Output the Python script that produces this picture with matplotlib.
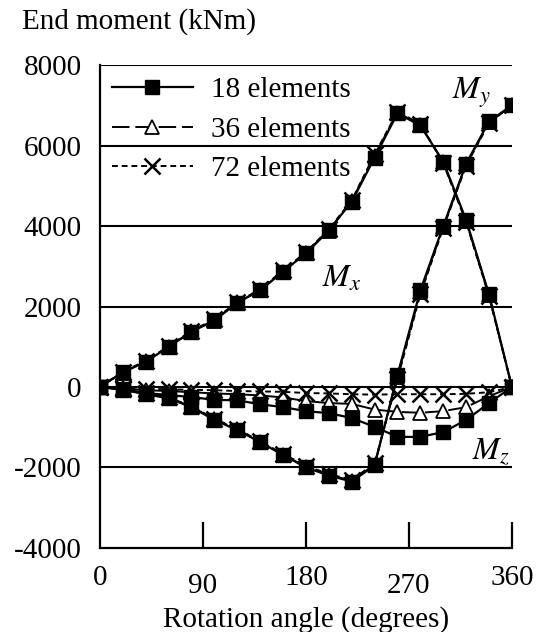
import matplotlib.pyplot as plt
import matplotlib.lines as mlines

plt.rcParams['font.family'] = ['Liberation Serif', 'DejaVu Serif']
plt.rcParams['mathtext.fontset'] = 'stix'
plt.rcParams['axes.unicode_minus'] = False

angle = [0, 20, 40, 60, 80, 100, 120, 140, 160, 180, 200, 220, 240, 260, 280, 300, 320, 340, 360]

# 18 elements
mx_18 = [0, 370, 620, 1000, 1370, 1660, 2090, 2410, 2860, 3330, 3900, 4600, 5700, 6800, 6500, 5600, 4150, 2300, 0]
my_18 = [0, -70, -180, -280, -500, -820, -1070, -1370, -1690, -2000, -2200, -2350, -1950, 300, 2400, 4000, 5550, 6600, 7000]
mz_18 = [0, -50, -150, -200, -250, -320, -330, -430, -500, -600, -650, -770, -990, -1240, -1240, -1120, -820, -400, 0]

# 36 elements
mx_36 = [0, 360, 640, 990, 1380, 1650, 2100, 2400, 2870, 3320, 3880, 4620, 5750, 6820, 6520, 5580, 4120, 2280, 0]
my_36 = [0, -60, -170, -270, -490, -800, -1050, -1360, -1680, -1980, -2180, -2330, -1930, 250, 2350, 3980, 5530, 6580, 7000]
mz_36 = [0, -30, -80, -100, -130, -160, -180, -210, -260, -350, -400, -420, -560, -620, -640, -600, -500, -230, 0]

# 72 elements
mx_72 = [0, 380, 650, 1010, 1400, 1680, 2110, 2430, 2900, 3350, 3920, 4640, 5780, 6840, 6540, 5560, 4100, 2250, 0]
my_72 = [0, -60, -160, -260, -480, -790, -1040, -1350, -1660, -1960, -2160, -2310, -1900, 200, 2300, 3950, 5500, 6560, 7000]
mz_72 = [0, -20, -40, -60, -70, -80, -100, -110, -120, -150, -160, -180, -190, -180, -180, -180, -170, -130, 0]

fig = plt.figure(figsize=(5.4, 6.32), dpi=100)
ax = fig.add_axes([0.185, 0.133, 0.763, 0.764])

s18 = dict(color='black', lw=1.6, marker='s', ms=10.5, mfc='black', mec='black')
s36 = dict(color='black', lw=1.4, dashes=(9, 3), marker='^', ms=10, mfc='white', mec='black', mew=1.3)
s72 = dict(color='black', lw=1.4, dashes=(3, 2), marker='x', ms=12, mew=1.8)

for m in (mx_36, my_36, mz_36):
    ax.plot(angle, m, **s36, zorder=3)
for m in (mx_72, my_72, mz_72):
    ax.plot(angle, m, **s72, zorder=4)
for m in (mx_18, my_18, mz_18):
    ax.plot(angle, m, **s18, zorder=5)

ax.set_xlim(0, 360)
ax.set_ylim(-4000, 8000)
ax.set_xticks([0, 90, 180, 270, 360])
ax.set_yticks(range(-4000, 8001, 2000))
for y in range(-2000, 8001, 2000):
    ax.axhline(y, color='black', lw=1.5, zorder=1)

for side in ('top', 'right'):
    ax.spines[side].set_visible(False)
ax.spines['left'].set_linewidth(1.6)
ax.spines['bottom'].set_linewidth(1.6)
ax.tick_params(axis='y', length=0, pad=13, labelsize=21)
ax.tick_params(axis='x', direction='in', length=19, width=1.6, pad=12, labelsize=21)
ticks = ax.xaxis.get_major_ticks()
for i in (1, 3):
    ticks[i].set_pad(18)
ticks[0].tick1line.set_visible(False)

ax.set_xlabel('Rotation angle (degrees)', fontsize=21, labelpad=5)
fig.text(0.04, 0.955, 'End moment (kNm)', fontsize=21)

ax.text(194, 2500, '$M_x$', fontsize=23)
ax.text(308, 7150, '$M_y$', fontsize=23)
ax.text(325, -1800, '$M_z$', fontsize=23)

h18 = mlines.Line2D([], [], **s18)
h36 = mlines.Line2D([], [], **s36)
h72 = mlines.Line2D([], [], **s72)
ax.legend([h18, h36, h72], ['18 elements', '36 elements', '72 elements'],
          loc='upper left', bbox_to_anchor=(0.0, 1.0), frameon=False, fontsize=21,
          handlelength=2.8, handletextpad=0.6, labelspacing=0.45, numpoints=1,
          borderaxespad=0.2, borderpad=0.2)

fig.savefig('out.png', dpi=100)
